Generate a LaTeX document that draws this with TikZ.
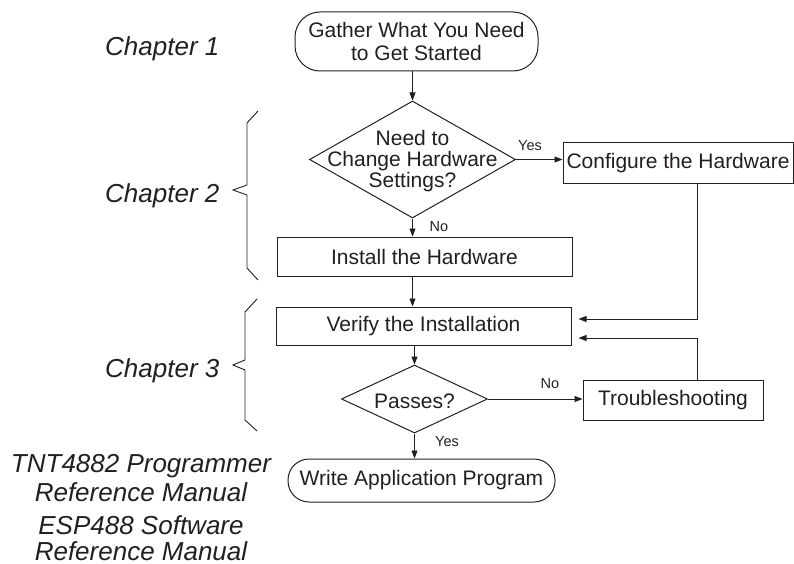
\documentclass[tikz,border=0pt]{standalone}
\usepackage{fontspec}
\setmainfont{Liberation Sans}
\usetikzlibrary{shapes.geometric,arrows.meta,calc}
\definecolor{ink}{RGB}{35,31,32}
\begin{document}
\begin{tikzpicture}[x=1pt,y=-1pt,
  every node/.style={text=ink, font=\fontsize{21}{22.5}\selectfont},
  box/.style={draw=ink, line width=1pt, rectangle, inner sep=0pt},
  term/.style={draw=ink, line width=1pt, rectangle, inner sep=0pt, align=center},
  dia/.style={draw=ink, line width=1pt, diamond, inner sep=0pt},
  conn/.style={draw=ink, line width=0.9pt},
  arr/.style={conn, -{Triangle[length=8pt,width=6pt]}},
  lbl/.style={font=\fontsize{14.5}{16}\selectfont, inner sep=0pt},
  chap/.style={font=\fontsize{26}{29}\selectfont\itshape, inner sep=0pt, anchor=base west},
  refman/.style={font=\fontsize{26}{29}\selectfont\itshape, inner sep=0pt, anchor=base},
  brace/.style={draw=ink, line width=0.9pt, line join=miter}
]
\useasboundingbox (0,0) rectangle (794,564);

% flow nodes
\node[term, rounded corners=25pt, minimum width=243pt, minimum height=59pt] (gather) at (416.5,41.5) {Gather What You Need\\to Get Started};
\node[dia, minimum width=206pt, minimum height=117pt] (chg) at (412.5,159.5) {};
\node[align=center, inner sep=0pt, font=\fontsize{21}{20.7}\selectfont] (chgtxt) at (412.5,161) {Need to\\Change Hardware\\Settings?};
\node[box, minimum width=230pt, minimum height=40pt] (config) at (678,163) {Configure the Hardware};
\node[box, minimum width=295pt, minimum height=39pt] (install) at (424.5,256.5) {Install the Hardware};
\node[box, minimum width=295pt, minimum height=38pt] (verify) at (423.5,326) {Verify the Installation};
\node[dia, minimum width=146pt, minimum height=68pt] (pass) at (414.5,399) {};
\node[inner sep=0pt] (passtxt) at (414.5,401) {Passes?};
\node[box, minimum width=180pt, minimum height=40pt] (trouble) at (673,400) {Troubleshooting};
\node[term, rounded corners=21pt, minimum width=267pt, minimum height=43pt] (write) at (421.5,480.5) {Write Application Program};

% connectors
\draw[arr] (gather.south -| chg.north) -- (chg.north);
\draw[arr] (chg.east) -- (config.west |- chg.east);
\draw[arr] (chg.south) -- (chg.south |- install.north);
\draw[arr] (install.south -| chg.south) -- (verify.north -| chg.south);
\draw[arr] (verify.south -| pass.north) -- (pass.north);
\draw[arr] (pass.east) -- (trouble.west |- pass.east);
\draw[arr] (pass.south) -- (pass.south |- write.north);
\coordinate (railA) at (697,319);
\coordinate (railB) at (697,338);
\draw[arr, shorten >=7pt] (config.south -| railA) -- (railA) -- (railA -| verify.east);
\draw[arr, shorten >=7pt] (trouble.north -| railB) -- (railB) -- (railB -| verify.east);

% connector labels
\node[lbl] (lyes1) at (530,146) {Yes};
\node[lbl] (lno1) at (439,227) {No};
\node[lbl] (lno2) at (550,384) {No};
\node[lbl] (lyes2) at (447,442) {Yes};

% chapter labels
\node[chap] (ch1) at (105,56) {Chapter 1};
\node[chap] (ch2) at (105,202) {Chapter 2};
\node[chap] (ch3) at (105,377) {Chapter 3};

% braces
\draw[brace] (258,111) -- (247,123) -- (247,185) -- (233,190) -- (247,195) -- (247,268) -- (258,280);
\draw[brace] (257,299) -- (245,312) -- (245,360) -- (233,365) -- (245,370) -- (245,420) -- (257,431);

% reference manuals
\node[refman] (r1a) at (141,472) {TNT4882 Programmer};
\node[refman] (r1b) at (141,501) {Reference Manual};
\node[refman] (r2a) at (141,534) {ESP488 Software};
\node[refman] (r2b) at (141,560) {Reference Manual};
\end{tikzpicture}
\end{document}
